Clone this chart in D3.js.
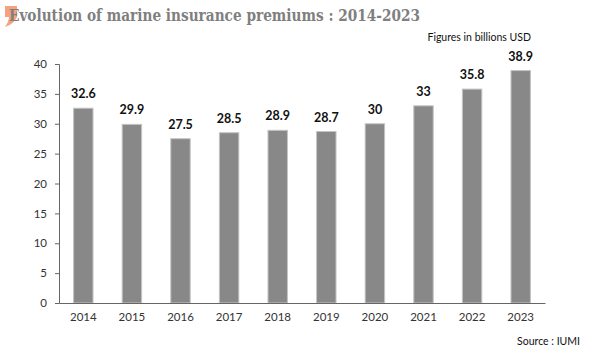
<!DOCTYPE html>
<html>
<head>
<meta charset="utf-8">
<script src="https://cdn.jsdelivr.net/npm/d3@7"></script>
<style>
  body { margin: 0; background: #fff; }
  text { font-family: "Lato", "DejaVu Sans", sans-serif; }
</style>
</head>
<body>
<script>
(function() {
const width = 600;
const height = 350;

// data
const years = ["2014", "2015", "2016", "2017", "2018", "2019", "2020", "2021", "2022", "2023"];
const premiums = [32.6, 29.9, 27.5, 28.5, 28.9, 28.7, 30, 33, 35.8, 38.9];
const yTicks = [0, 5, 10, 15, 20, 25, 30, 35, 40];

const margin = { top: 64, left: 59, right: 55, bottom: 47 };

const svg = d3.select("body").append("svg")
  .attr("width", width)
  .attr("height", height);

const xScale = d3.scaleBand()
  .domain(years)
  .range([margin.left, width - margin.right])
  .paddingInner(0.6)
  .paddingOuter(0.3);

const yScale = d3.scaleLinear()
  .domain([0, 40])
  .range([height - margin.bottom, margin.top]);

// orange mark top-left
svg.append("path")
  .attr("d", "M5,6 L17,6 L17,17 Q14,24 5,27 Q9,21 9,17 L5,17 Z")
  .attr("fill", "#f5a27e");

// title
svg.append("text")
  .attr("x", 9)
  .attr("y", 21)
  .attr("textLength", 411)
  .attr("lengthAdjust", "spacingAndGlyphs")
  .attr("font-size", "16px")
  .style("font-family", "'DejaVu Serif', serif")
  .style("font-weight", "bold")
  .attr("fill", "#7f7f7f")
  .text("Evolution of marine insurance premiums : 2014-2023");

svg.append("text")
  .attr("x", 531)
  .attr("y", 41)
  .attr("text-anchor", "end")
  .attr("font-size", "10.5px")
  .attr("fill", "#111")
  .text("Figures in billions USD");

svg.append("text")
  .attr("x", 580)
  .attr("y", 345)
  .attr("text-anchor", "end")
  .attr("font-size", "10.5px")
  .attr("fill", "#111")
  .text("Source : IUMI");

// bars
svg.append("g")
  .selectAll("rect")
  .data(premiums)
  .join("rect")
  .attr("x", (d, i) => xScale(years[i]))
  .attr("y", (d) => yScale(d))
  .attr("width", xScale.bandwidth())
  .attr("height", (d) => yScale(0) - yScale(d))
  .attr("fill", "#888888")
  .attr("stroke", "#c4c4c4")
  .attr("stroke-width", 1);

// value labels
svg.append("g")
  .selectAll("text")
  .data(premiums)
  .join("text")
  .attr("x", (d, i) => xScale(years[i]) + xScale.bandwidth() / 2)
  .attr("y", (d) => yScale(d) - 10)
  .attr("text-anchor", "middle")
  .attr("font-size", "12.5px")
  .style("font-weight", "bold")
  .attr("fill", "#111")
  .text((d) => d);

// y axis
const yAxis = d3.axisLeft(yScale).tickValues(yTicks).tickSize(4).tickPadding(8);
const gy = svg.append("g")
  .attr("transform", `translate(${margin.left},0)`)
  .call(yAxis);
gy.select(".domain").attr("stroke", "#666");
gy.selectAll(".tick line").attr("stroke", "#666");
gy.selectAll(".tick text")
  .attr("font-size", "11.5px")
  .attr("fill", "#333")
  .style("font-family", "'Lato', 'DejaVu Sans', sans-serif");

// x axis
const xAxis = d3.axisBottom(xScale).tickSize(0).tickPadding(10);
const gx = svg.append("g")
  .attr("transform", `translate(0,${yScale(0)})`)
  .call(xAxis);
gx.select(".domain").attr("stroke", "#666");
gx.selectAll(".tick text")
  .attr("font-size", "11.5px")
  .attr("fill", "#333")
  .style("font-family", "'Lato', 'DejaVu Sans', sans-serif");
}());
</script>
</body>
</html>
